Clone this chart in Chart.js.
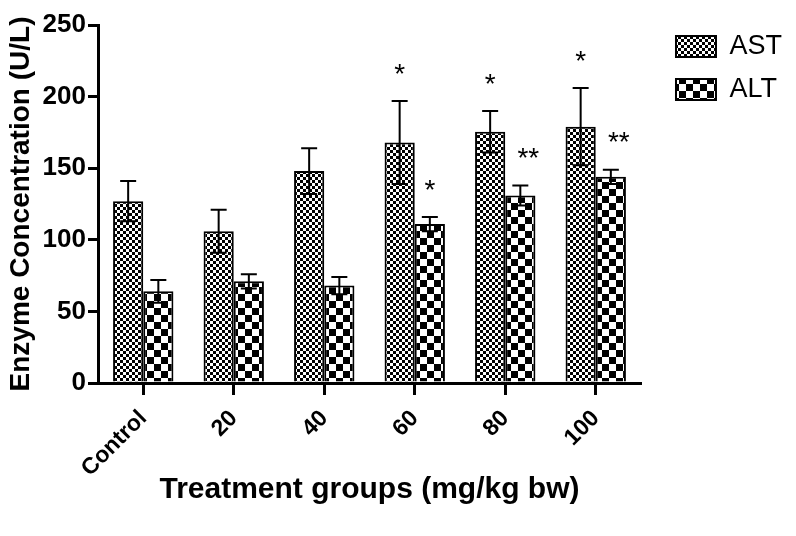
<!DOCTYPE html>
<html>
<head>
<meta charset="utf-8">
<script src="https://cdn.jsdelivr.net/npm/chart.js@4/dist/chart.umd.min.js"></script>
<style>
  html, body { margin: 0; padding: 0; background: #fff; }
  #wrap { width: 796px; height: 536px; }
</style>
</head>
<body>
<div id="wrap"><canvas id="chart" width="796" height="536"></canvas></div>
<script>
const groups = ['Control', '20', '40', '60', '80', '100'];
const astValues = [127, 106, 148, 168, 175.5, 179];
const altValues = [64, 71, 68, 111, 131, 144];
const astErrors = [14, 15, 16, 29, 14.5, 27];
const altErrors = [8, 5, 6, 5, 7, 5];
const astStars = ['', '', '', '*', '*', '*'];
const altStars = ['', '', '', '*', '**', '**'];
const yTicks = [0, 50, 100, 150, 200, 250];

const FONT = "'Liberation Sans', Arial, sans-serif";

function makeChecker(size) {
    const c = document.createElement('canvas');
    c.width = size * 2;
    c.height = size * 2;
    const g = c.getContext('2d');
    g.fillStyle = '#fff';
    g.fillRect(0, 0, size * 2, size * 2);
    g.fillStyle = '#000';
    g.fillRect(0, 0, size, size);
    g.fillRect(size, size, size, size);
    return g.createPattern(c, 'repeat');
}

// error bars (mean +/- SEM) and significance stars
const errorBarsPlugin = {
    id: 'errorBars',
    afterDatasetsDraw(chart) {
        const ctx = chart.ctx;
        const y = chart.scales.y;
        ctx.save();
        ctx.strokeStyle = '#000';
        ctx.lineWidth = 2;
        chart.data.datasets.forEach((ds, i) => {
            const meta = chart.getDatasetMeta(i);
            meta.data.forEach((bar, j) => {
                const v = ds.data[j];
                const e = ds.errors[j];
                const top = y.getPixelForValue(v + e);
                const bot = y.getPixelForValue(v - e);
                const x = bar.x;
                ctx.beginPath();
                ctx.moveTo(x, top);
                ctx.lineTo(x, bot);
                ctx.moveTo(x - 8, top);
                ctx.lineTo(x + 8, top);
                ctx.moveTo(x - 8, bot);
                ctx.lineTo(x + 8, bot);
                ctx.stroke();

                const star = ds.stars[j];
                if (star) {
                    ctx.fillStyle = '#000';
                    ctx.font = '28px ' + FONT;
                    ctx.textAlign = 'center';
                    ctx.textBaseline = 'middle';
                    const sx = star.length > 1 ? x + 8 : x;
                    ctx.fillText(star, sx, top - 26);
                }
            });
        });
        ctx.restore();
    }
};

// nudge the legend block right/up to where it sits in the figure
const legendShift = {
    id: 'legendShift',
    afterLayout(chart) {
        const lg = chart.legend;
        lg.left += 19;
        lg.right += 19;
        lg.top -= 8;
        lg.bottom -= 8;
    }
};

new Chart(document.getElementById('chart'), {
    type: 'bar',
    data: {
        labels: groups,
        datasets: [
            {
                label: 'AST',
                data: astValues,
                errors: astErrors,
                stars: astStars,
                backgroundColor: makeChecker(3),
                borderColor: '#000',
                borderWidth: 2,
                borderSkipped: 'bottom'
            },
            {
                label: 'ALT',
                data: altValues,
                errors: altErrors,
                stars: altStars,
                backgroundColor: makeChecker(7),
                borderColor: '#000',
                borderWidth: 2,
                borderSkipped: 'bottom'
            }
        ]
    },
    options: {
        responsive: false,
        animation: false,
        layout: { padding: { left: 0, right: 23, top: 25, bottom: 28 } },
        datasets: {
            bar: { categoryPercentage: 0.667, barPercentage: 1.0 }
        },
        scales: {
            x: {
                afterFit(scale) {
                    scale.height = 125;
                },
                grid: {
                    offset: false,
                    drawOnChartArea: false,
                    drawTicks: true,
                    tickLength: 12,
                    color: '#000',
                    lineWidth: 3
                },
                border: { display: true, color: '#000', width: 3 },
                ticks: {
                    color: '#000',
                    font: { family: FONT, size: 23, weight: 'bold' },
                    minRotation: 45,
                    maxRotation: 45,
                    padding: 10
                },
                title: {
                    display: true,
                    text: 'Treatment groups (mg/kg bw)',
                    color: '#000',
                    font: { family: FONT, size: 30, weight: 'bold' },
                    padding: { top: 0, bottom: 0 }
                }
            },
            y: {
                min: 0,
                max: 250,
                afterBuildTicks(scale) {
                    scale.ticks = yTicks.map(v => ({ value: v }));
                },
                afterFit(scale) {
                    scale.width = 98;
                },
                grid: {
                    drawOnChartArea: false,
                    drawTicks: true,
                    tickLength: 10,
                    color: '#000',
                    lineWidth: 3
                },
                border: { display: true, color: '#000', width: 3 },
                ticks: {
                    color: '#000',
                    font: { family: FONT, size: 26, weight: 'bold' },
                    padding: 2
                },
                title: {
                    display: true,
                    text: 'Enzyme Concentration (U/L)',
                    color: '#000',
                    font: { family: FONT, size: 28, weight: 'bold' },
                    padding: { top: 4, bottom: 0 }
                }
            }
        },
        plugins: {
            legend: {
                position: 'right',
                align: 'start',
                labels: {
                    boxWidth: 40,
                    boxHeight: 21,
                    padding: 16,
                    color: '#000',
                    font: { family: FONT, size: 27 }
                },
                onClick: null
            },
            tooltip: { enabled: false }
        }
    },
    plugins: [errorBarsPlugin, legendShift]
});
</script>
</body>
</html>
